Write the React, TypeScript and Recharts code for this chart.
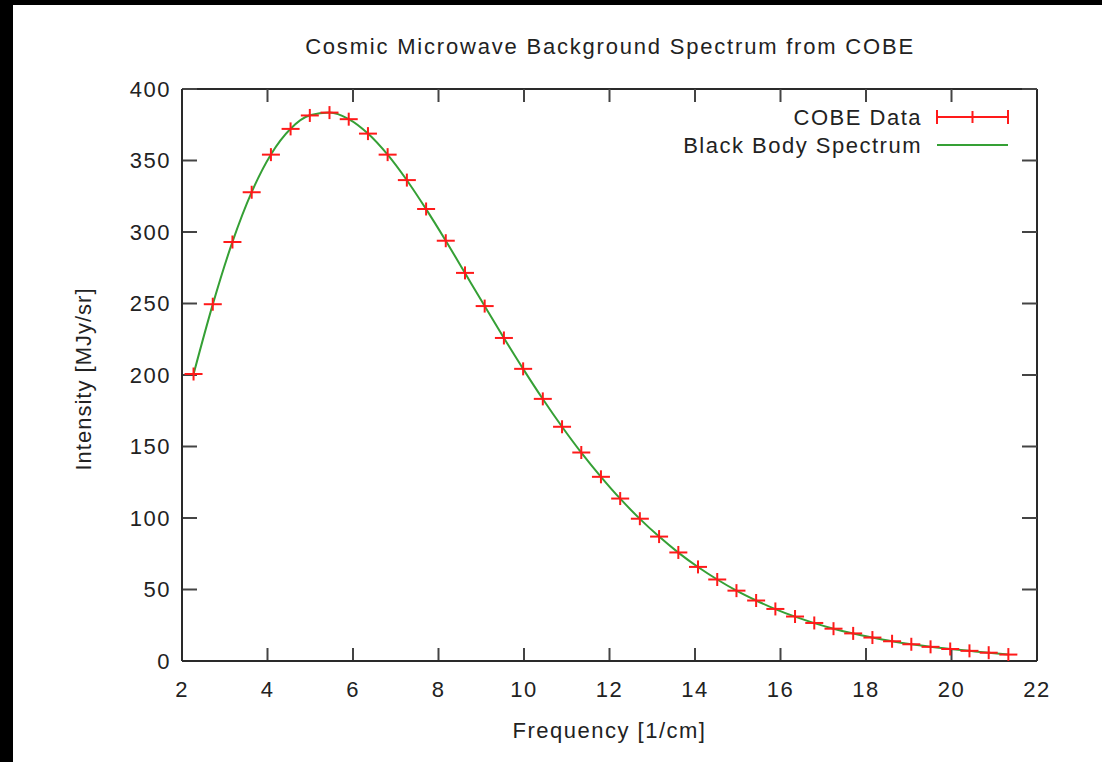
import React from "react";
import {
  ComposedChart,
  Scatter,
  Line,
  XAxis,
  YAxis,
} from "recharts";

// COBE FIRAS monopole spectrum
const frequencies = [
  2.27, 2.72, 3.18, 3.63, 4.08, 4.54, 4.99, 5.45, 5.9, 6.35, 6.81, 7.26, 7.71,
  8.17, 8.62, 9.08, 9.53, 9.98, 10.44, 10.89, 11.34, 11.8, 12.25, 12.71, 13.16,
  13.61, 14.07, 14.52, 14.97, 15.43, 15.88, 16.34, 16.79, 17.24, 17.7, 18.15,
  18.61, 19.06, 19.51, 19.97, 20.42, 20.87, 21.33,
];

const cobeData = [
  200.7, 249.5, 293.0, 327.8, 354.1, 372.1, 381.5, 383.5, 378.9, 368.8, 354.1,
  336.3, 316.1, 293.9, 271.4, 248.2, 225.9, 204.3, 183.3, 163.8, 145.8, 128.8,
  113.6, 99.5, 87.0, 75.9, 65.8, 57.0, 49.2, 42.3, 36.4, 31.1, 26.6, 22.6, 19.3,
  16.4, 13.8, 11.7, 9.9, 8.4, 7.1, 5.8, 4.5,
];

const blackBody = [
  200.6, 249.4, 293.1, 327.9, 354.2, 372.2, 381.6, 383.6, 379.0, 368.9, 354.1,
  336.2, 316.0, 293.9, 271.3, 248.2, 225.9, 204.3, 183.2, 163.8, 145.7, 128.8,
  113.5, 99.4, 87.0, 75.8, 65.7, 57.0, 49.2, 42.3, 36.3, 31.0, 26.5, 22.6, 19.2,
  16.4, 13.8, 11.7, 9.9, 8.4, 7.1, 5.8, 4.6,
];

const xTicks = [2, 4, 6, 8, 10, 12, 14, 16, 18, 20, 22];
const yTicks = [0, 50, 100, 150, 200, 250, 300, 350, 400];

const rows = frequencies.map((freq, i) => ({
  freq,
  cobe: cobeData[i],
  bb: blackBody[i],
}));

const FONT = "'Liberation Sans', Arial, sans-serif";
const RED = "#ff1a1a";
const GREEN = "#35a035";
const AXIS = "#2a2a2a";
const TICK = "#444";

const tickStyle = {
  fontSize: 22,
  fill: "#222",
  fontFamily: FONT,
  letterSpacing: 1.5,
};

const tickLineStyle = { stroke: TICK, strokeWidth: 2 };
const noLabel = () => "";

const PlusMark = (props: any) => {
  const { cx, cy } = props;
  if (cx == null || cy == null) return null;
  return (
    <g stroke={RED} strokeWidth={2}>
      <line x1={cx - 9} y1={cy} x2={cx + 9} y2={cy} />
      <line x1={cx} y1={cy - 6.5} x2={cx} y2={cy + 6.5} />
    </g>
  );
};

const XLabel = ({ viewBox }: any) => {
  const { x, width } = viewBox;
  return (
    <text
      x={x + width / 2}
      y={738}
      textAnchor="middle"
      fontSize={22}
      fill="#222"
      fontFamily={FONT}
      style={{ letterSpacing: 1.5 }}
    >
      Frequency [1/cm]
    </text>
  );
};

const YLabel = () => (
  <text
    x={83}
    y={379}
    transform="rotate(-90 83 379)"
    textAnchor="middle"
    dominantBaseline="central"
    fontSize={22}
    fill="#222"
    fontFamily={FONT}
    style={{ letterSpacing: 1 }}
  >
    Intensity [MJy/sr]
  </text>
);

export default function App() {
  return (
    <div
      style={{
        position: "absolute",
        left: 0,
        top: 0,
        width: 1102,
        height: 762,
        background: "#000",
      }}
    >
      <div
        style={{
          position: "absolute",
          left: 13,
          top: 5,
          width: 1089,
          height: 757,
          background: "#fff",
        }}
      />
      <div style={{ position: "absolute", left: 0, top: 0 }}>
        <ComposedChart
          width={1102}
          height={762}
          data={rows}
          margin={{ top: 89, right: 65, bottom: 0, left: 0 }}
        >
          {/* mirrored axes first: gnuplot border with inward ticks */}
          <XAxis
            xAxisId="bottomIn"
            dataKey="freq"
            type="number"
            orientation="bottom"
            mirror
            domain={[2, 22]}
            allowDataOverflow
            ticks={xTicks}
            interval={0}
            height={40}
            stroke={AXIS}
            strokeWidth={2}
            tickSize={13}
            tickLine={tickLineStyle}
            tickFormatter={noLabel}
          />
          <XAxis
            xAxisId="top"
            dataKey="freq"
            type="number"
            orientation="top"
            mirror
            domain={[2, 22]}
            allowDataOverflow
            ticks={xTicks}
            interval={0}
            height={13}
            stroke={AXIS}
            strokeWidth={2}
            tickSize={13}
            tickLine={tickLineStyle}
            tickFormatter={noLabel}
          />
          <YAxis
            yAxisId="leftIn"
            type="number"
            orientation="left"
            mirror
            domain={[0, 400]}
            allowDataOverflow
            ticks={yTicks}
            interval={0}
            width={40}
            stroke={AXIS}
            strokeWidth={2}
            tickSize={15}
            tickLine={tickLineStyle}
            tickFormatter={noLabel}
          />
          <YAxis
            yAxisId="right"
            type="number"
            orientation="right"
            mirror
            domain={[0, 400]}
            allowDataOverflow
            ticks={yTicks}
            interval={0}
            width={15}
            stroke={AXIS}
            strokeWidth={2}
            tickSize={15}
            tickLine={tickLineStyle}
            tickFormatter={noLabel}
          />
          {/* labelled axes, outside the box */}
          <XAxis
            xAxisId="bottom"
            dataKey="freq"
            type="number"
            domain={[2, 22]}
            allowDataOverflow
            ticks={xTicks}
            interval={0}
            height={101}
            stroke={AXIS}
            strokeWidth={2}
            tickLine={false}
            tickSize={0}
            tickMargin={20}
            tick={tickStyle}
            label={<XLabel />}
          />
          <YAxis
            yAxisId="left"
            type="number"
            domain={[0, 400]}
            allowDataOverflow
            ticks={yTicks}
            interval={0}
            width={182}
            stroke={AXIS}
            strokeWidth={2}
            tickLine={false}
            tickSize={0}
            tickMargin={11}
            tick={tickStyle}
            label={<YLabel />}
          />
          <Scatter
            xAxisId="bottom"
            yAxisId="left"
            data={rows}
            dataKey="cobe"
            shape={<PlusMark />}
            isAnimationActive={false}
          />
          <Line
            xAxisId="bottom"
            yAxisId="left"
            dataKey="bb"
            type="monotone"
            stroke={GREEN}
            strokeWidth={2}
            dot={false}
            activeDot={false}
            isAnimationActive={false}
          />
        </ComposedChart>
      </div>
      <svg
        width={1102}
        height={762}
        style={{ position: "absolute", left: 0, top: 0, pointerEvents: "none" }}
      >
        <text
          x={610}
          y={54}
          textAnchor="middle"
          fontSize={22}
          fill="#222"
          fontFamily={FONT}
          style={{ letterSpacing: 1.8 }}
        >
          Cosmic Microwave Background Spectrum from COBE
        </text>
        <g fontSize={22} fill="#222" fontFamily={FONT} style={{ letterSpacing: 1.5 }}>
          <text x={922} y={125} textAnchor="end">
            COBE Data
          </text>
          <text x={922} y={153} textAnchor="end">
            Black Body Spectrum
          </text>
        </g>
        <g stroke={RED} strokeWidth={2}>
          <line x1={937} y1={117} x2={1008} y2={117} />
          <line x1={937} y1={110} x2={937} y2={124} />
          <line x1={1008} y1={110} x2={1008} y2={124} />
          <line x1={972.5} y1={111} x2={972.5} y2={123} />
        </g>
        <line x1={937} y1={145} x2={1008} y2={145} stroke={GREEN} strokeWidth={2} />
      </svg>
    </div>
  );
}
